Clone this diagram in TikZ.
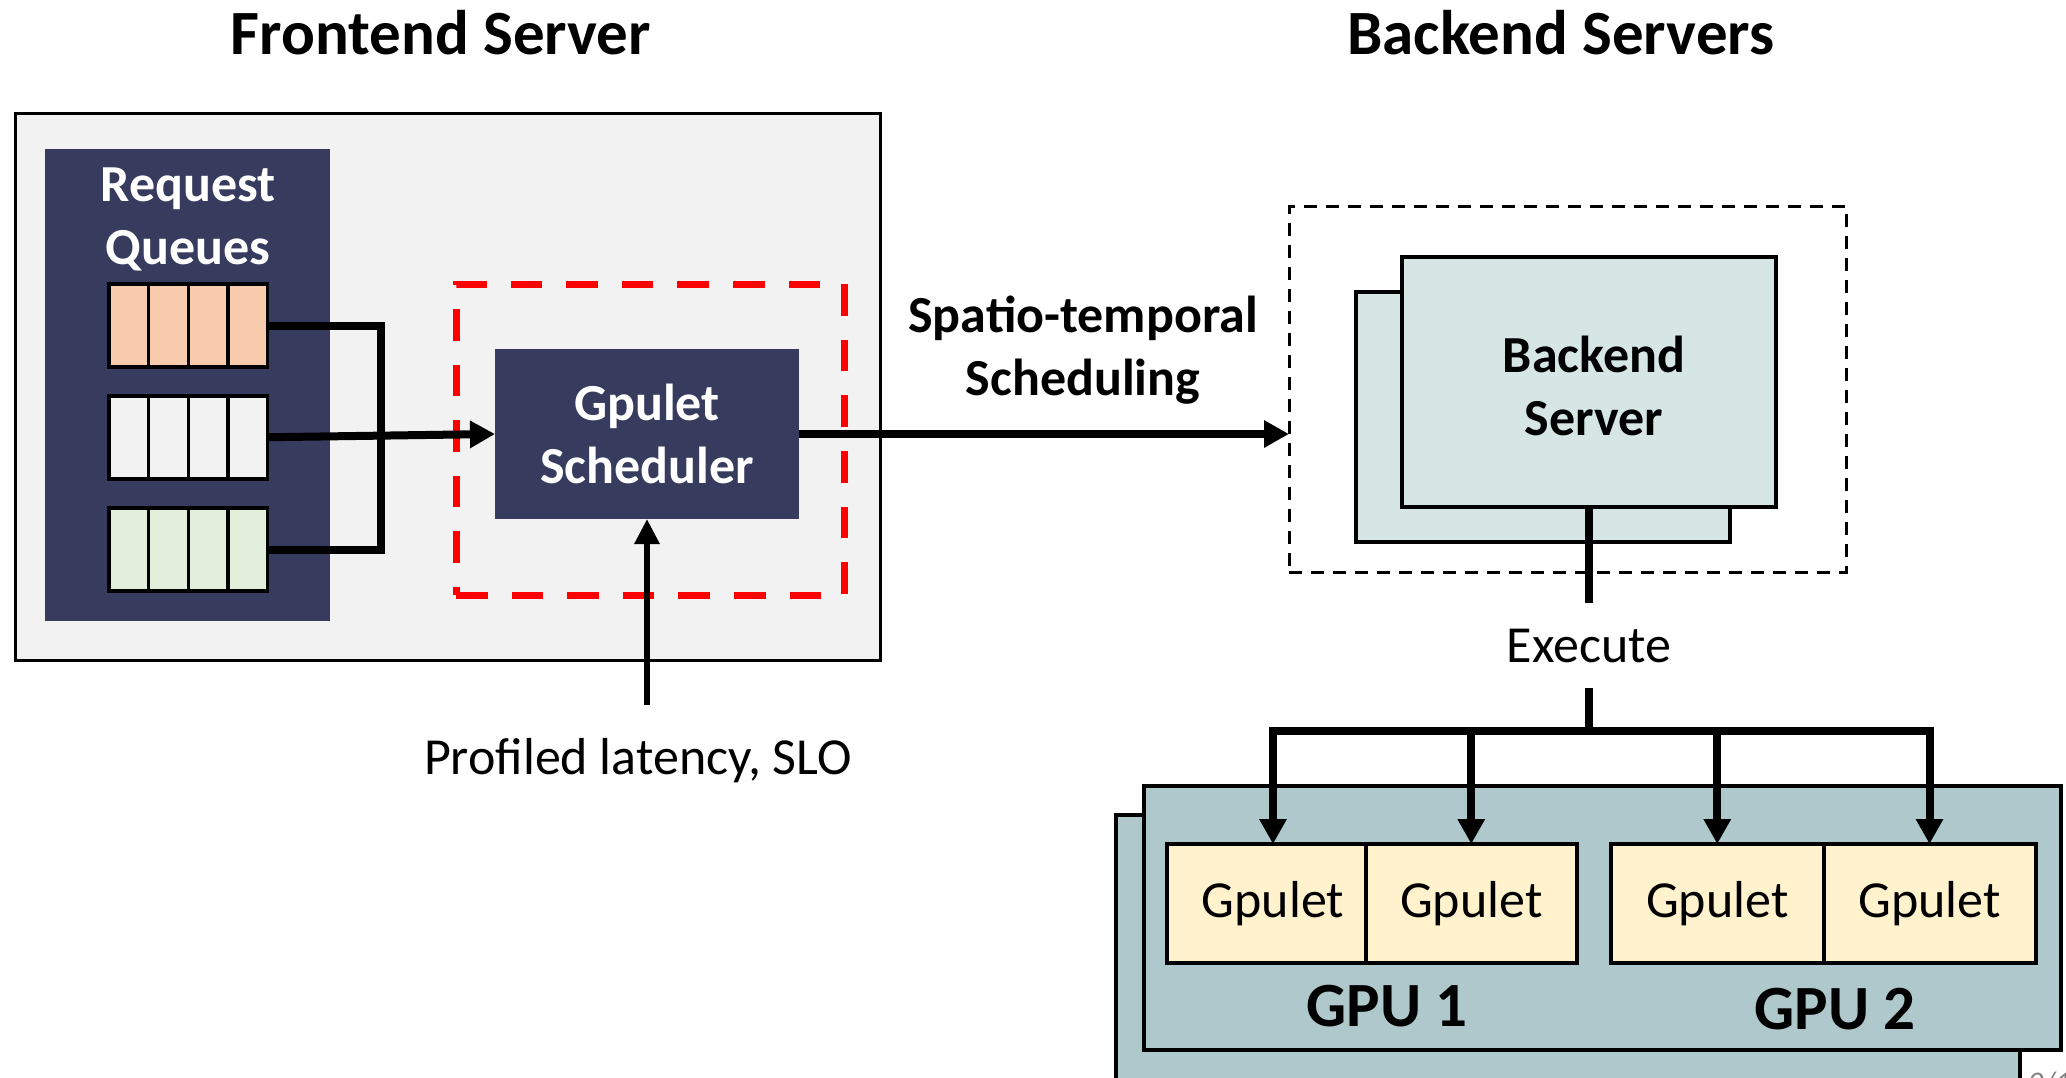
\documentclass[tikz,border=0pt]{standalone}
\usepackage{fontspec}
\setmainfont{Carlito}
\usetikzlibrary{arrows.meta,calc}
\definecolor{navy}{HTML}{373C5E}
\definecolor{fegray}{HTML}{F2F2F2}
\definecolor{peach}{HTML}{F8CBAD}
\definecolor{qgray}{HTML}{F2F2F2}
\definecolor{qgreen}{HTML}{E2EFDA}
\definecolor{bsfill}{HTML}{D5E6E5}
\definecolor{gpufill}{HTML}{AEC8CB}
\definecolor{cellfill}{HTML}{FFF2CC}
\definecolor{redd}{HTML}{FF0000}
\tikzset{
  px/.style={x=0.5pt,y=-0.5pt},
  bx/.style={rectangle,inner sep=0pt,outer sep=0pt},
  body/.style={font=\fontsize{26}{31.5}\selectfont},
  bodyb/.style={font=\fontsize{26}{31.5}\selectfont\bfseries},
  big/.style={font=\fontsize{31.5}{36}\selectfont\bfseries},
  conn/.style={line width=4pt,line join=miter},
  arr/.style={line width=4pt,line join=miter,-{Triangle[length=12.5pt,width=13pt]}},
  queue/.style={bx,draw=black,line width=1.75pt,minimum width=79.25pt,minimum height=41.5pt},
  cell/.style={bx,draw=black,line width=2pt,fill=cellfill,minimum height=59.5pt,body},
}
\begin{document}
\begin{tikzpicture}[px]
\useasboundingbox (0,0) rectangle (2066,1077);
% titles
\node[bx,big] (tfe) at (441,33) {Frontend Server};
\node[bx,big] (tbe) at (1561,33) {Backend Servers};
% frontend
\node[bx,draw=black,line width=1.5pt,fill=fegray,minimum width=432.5pt,minimum height=273.75pt] (fe) at (448,386.75) {};
\node[bx,fill=navy,minimum width=142.75pt,minimum height=236pt] (rq) at (187.25,385) {};
\node[bx,bodyb,text=white,align=center] (rqt) at (188,219) {Request\\Queues};
\node[queue,fill=peach] (q1) at (188.25,325.5) {};
\node[queue,fill=qgray] (q2) at (188.25,437.25) {};
\node[queue,fill=qgreen] (q3) at (188.25,549.5) {};
\foreach \q in {q1,q2,q3}{
  \foreach \f in {0.25,0.5,0.75}{
    \draw[line width=1.75pt] ($(\q.north west)!\f!(\q.north east)$) -- ($(\q.south west)!\f!(\q.south east)$);
  }
}
\node[bx,draw=redd,line width=3.5pt,dash pattern=on 15.8pt off 12pt,minimum width=194pt,minimum height=155.5pt] (red) at (650,439.5) {};
\node[bx,fill=navy,minimum width=152pt,minimum height=85pt,bodyb,text=white,align=center] (gs) at (647,434) {Gpulet\\Scheduler};
\coordinate (j) at (380.5,437);
\draw[conn] (q1.east) -| (j) |- (q3.east);
\draw[arr] (q2.east) -- (gs.west);
\coordinate (pin) at (647,705);
\draw[line width=3pt,-{Triangle[length=12.5pt,width=12pt]}] (pin) -- (gs.south);
\node[bx,body] (prof) at (638,761) {Profiled latency, SLO};
% backend
\node[bx,draw=black,line width=1.5pt,dash pattern=on 6.5pt off 4.5pt,minimum width=278.5pt,minimum height=182.75pt] (bes) at (1567.5,389.25) {};
\node[bx,draw=black,line width=2pt,fill=bsfill,minimum width=187pt,minimum height=125.25pt] (bsback) at (1542.5,416.75) {};
\node[bx,draw=black,line width=2pt,fill=bsfill,minimum width=187pt,minimum height=125pt] (bsfront) at (1588.5,382) {};
\node[bx,bodyb,align=center] (bst) at (1594,386) {Backend\\Server};
\draw[arr] (gs.east) -- (gs.east -| bes.west);
\node[bx,bodyb,align=center] (spt) at (1083,350) {Spatio-temporal\\Scheduling};
\node[bx,body,minimum height=42.5pt] (exec) at (1589,645.5) {Execute};
\draw[conn] (bsfront.south -| exec.north) -- (exec.north);
\coordinate (split) at (1589,731);
\draw[conn] (exec.south) -- (split);
% GPUs
\node[bx,draw=black,line width=2pt,fill=gpufill,minimum width=452pt,minimum height=142.5pt] (gpub) at (1568,957.5) {};
\node[bx,draw=black,line width=2pt,fill=gpufill,minimum width=458.5pt,minimum height=132pt] (gpuf) at (1602.5,917.5) {};
\node[cell,minimum width=99.5pt] (g1) at (1266,903.5) {\hspace{7pt}Gpulet};
\node[cell,minimum width=105.75pt] (g2) at (1471.25,903.5) {Gpulet};
\node[cell,minimum width=106.25pt] (g3) at (1717.25,903.5) {Gpulet};
\node[cell,minimum width=106pt] (g4) at (1929.5,903.5) {Gpulet};
\node[bx,big] (gpu1) at (1387,1006) {GPU 1};
\node[bx,big] (gpu2) at (1835,1009) {GPU 2};
\draw[arr] (split) -| ($(g1.north)+(7,0)$);
\foreach \g in {g2,g3,g4}{
  \draw[arr] (split) -| (\g.north);
}
\node[anchor=base west,inner sep=0pt,text=gray,font=\fontsize{15}{15}\selectfont\itshape] (pg) at (2028,1092) {0/1};
\end{tikzpicture}
\end{document}
